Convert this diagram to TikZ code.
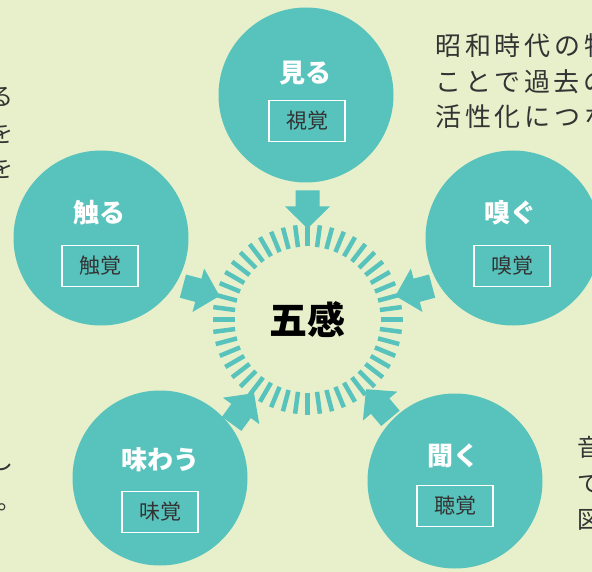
\documentclass[tikz,border=0pt]{standalone}
\usepackage{fontspec}
\setmainfont{Noto Sans CJK JP}
\newfontfamily\jpfont{Noto Sans CJK JP}
\definecolor{bgc}{RGB}{231,240,203}
\definecolor{tealc}{RGB}{88,195,188}
\definecolor{inkc}{RGB}{51,51,51}
\tikzset{
  bubble/.style={circle, fill=tealc, minimum size=175pt, inner sep=0pt},
  ttl/.style={text=white, font=\jpfont\bfseries\fontsize{26}{26}\selectfont, inner sep=0pt},
  sensebox/.style={draw=white, line width=1.5pt, minimum width=76pt, minimum height=41pt, inner sep=0pt, text=inkc, font=\jpfont\fontsize{21}{21}\selectfont},
  bgtext/.style={text=inkc, inner sep=0pt, font=\jpfont\fontsize{24}{24}\selectfont},
  widetext/.style={text=inkc, inner sep=0pt, font=\jpfont\fontsize{26}{26}\selectfont\addfontfeatures{LetterSpace=15}},
  tickmark/.style={draw=tealc, line width=4.5pt},
  bigarrow/.style={fill=tealc}
}
\begin{document}
\begin{tikzpicture}[x=1pt,y=-1pt]
\path[use as bounding box] (0,0) rectangle (592,572);
\clip (0,0) rectangle (592,572);
\fill[bgc] (0,0) rectangle (592,572);

% background text fragments
\node[widetext, anchor=west] (t1) at (435,45.5) {昭和時代の物};
\node[widetext, anchor=west] (t2) at (435,82) {ことで過去の};
\node[widetext, anchor=west] (t3) at (435,117) {活性化につな};
\node[bgtext, anchor=east] (l1) at (14,97) {る};
\node[bgtext, anchor=east] (l2) at (14,133) {を};
\node[bgtext, anchor=east] (l3) at (14,168) {を};
\node[bgtext, anchor=east] (l4) at (14,461) {し};
\node[bgtext, anchor=west] (l5) at (-3,507) {。};
\node[bgtext, anchor=west] (r1) at (577,447) {音};
\node[bgtext, anchor=west] (r2) at (577,484) {で};
\node[bgtext, anchor=west] (r3) at (577,520) {図};

% center
\node[inner sep=0pt, font=\jpfont\bfseries\fontsize{38}{38}\selectfont] (core) at (307.5,319.5) {五感};
\begin{scope}[shift={(core.center)}]
  \foreach \a in {0,7.5,...,352.5} \draw[tickmark] (\a:73) -- (\a:95);
\end{scope}

% circles
\node[bubble] (see) at (306,95) {};
\node[bubble] (touch) at (101,238) {};
\node[bubble] (smell) at (513,238) {};
\node[bubble] (taste) at (160,478) {};
\node[bubble] (hear) at (455,481) {};

\node[ttl] (see-t) at (305,73) {見る};
\node[sensebox] (see-b) at (307,121) {視覚};
\node[ttl] (touch-t) at (99,213) {触る};
\node[sensebox] (touch-b) at (100,266) {触覚};
\node[ttl] (smell-t) at (510,213) {嗅ぐ};
\node[sensebox] (smell-b) at (512,266) {嗅覚};
\node[ttl] (taste-t) at (160,460) {味わう};
\node[sensebox] (taste-b) at (160,512) {味覚};
\node[ttl] (hear-t) at (453,456) {聞く};
\node[sensebox] (hear-b) at (455,506) {聴覚};

% arrows
\foreach \a in {90,165,15,234,310}{
  \begin{scope}[shift={(core.center)}, rotate=\a]
    \fill[bigarrow] (91,0) -- (113,22.5) -- (113,12) -- (129,12) -- (129,-12) -- (113,-12) -- (113,-22.5) -- cycle;
  \end{scope}
}
\end{tikzpicture}
\end{document}
